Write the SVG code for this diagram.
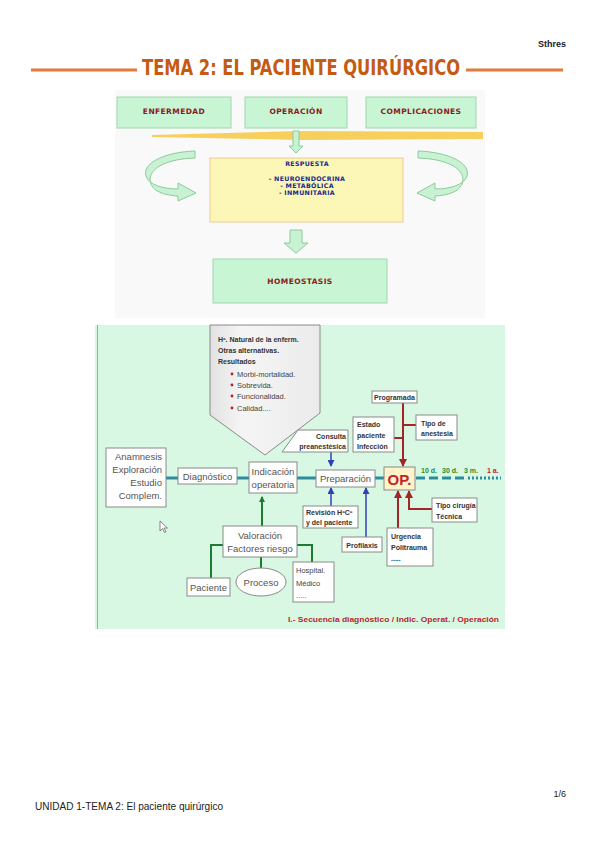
<svg xmlns="http://www.w3.org/2000/svg" width="599" height="848" viewBox="0 0 599 848">
<style>
.tb{fill:#C8F5D3;stroke:#9FD8AE;stroke-width:1}
.tt{font-family:"DejaVu Sans","Liberation Sans",sans-serif;font-weight:bold;font-size:7.5px;fill:#8B1A1A;text-anchor:middle;letter-spacing:0.4px}
.rt{font-family:"DejaVu Sans","Liberation Sans",sans-serif;font-weight:bold;font-size:6.3px;fill:#1A2A8C;text-anchor:middle;letter-spacing:0.3px}
.bx{fill:#FFFFFF;stroke:#8A8A8A;stroke-width:1}
.t9{font-family:"Liberation Sans",Arial,sans-serif;font-size:9.5px;fill:#555}
.tb7{font-family:"Liberation Sans",Arial,sans-serif;font-weight:bold;font-size:7px;fill:#333}
.pt{font-family:"Liberation Sans",Arial,sans-serif;font-size:7.5px;fill:#444}
.teal{stroke:#2C8C9C;stroke-width:3;fill:none}
.grn{stroke:#1E7B30;stroke-width:2;fill:none}
.blu{stroke:#3040B8;stroke-width:1.5;fill:none}
.red{stroke:#A32626;stroke-width:2;fill:none}
.ga{fill:#C8F2D2;stroke:#8CCB9C;stroke-width:1}
</style>
<defs>
<marker id="mg" markerWidth="6" markerHeight="6" refX="5" refY="3" orient="auto" markerUnits="userSpaceOnUse"><path d="M0,0 L6,3 L0,6 Z" fill="#1E7B30"/></marker>
<marker id="mb" markerWidth="7" markerHeight="7" refX="6" refY="3.5" orient="auto" markerUnits="userSpaceOnUse"><path d="M0,0 L7,3.5 L0,7 Z" fill="#3040B8"/></marker>
<marker id="mr" markerWidth="8" markerHeight="8" refX="7" refY="4" orient="auto" markerUnits="userSpaceOnUse"><path d="M0,0 L8,4 L0,8 Z" fill="#A32626"/></marker>
<linearGradient id="pg" x1="0" y1="0" x2="1" y2="0"><stop offset="0" stop-color="#E2E2E2"/><stop offset="0.3" stop-color="#F5F5F5"/><stop offset="1" stop-color="#EBEBEB"/></linearGradient>
</defs>
<rect width="599" height="848" fill="#FFFFFF"/>

<!-- header -->
<text x="566" y="47" text-anchor="end" font-family="'Liberation Sans',Arial,sans-serif" font-weight="bold" font-size="9" fill="#222">Sthres</text>
<line x1="31" y1="70" x2="137" y2="70" stroke="#E07B39" stroke-width="3"/>
<line x1="466" y1="70" x2="563" y2="70" stroke="#E07B39" stroke-width="3"/>
<text x="142" y="75" textLength="318" lengthAdjust="spacingAndGlyphs" font-family="'DejaVu Sans Condensed','DejaVu Sans',sans-serif" font-weight="bold" font-size="22" fill="#C55A11">TEMA 2: EL PACIENTE QUIRÚRGICO</text>

<!-- top diagram -->
<rect x="115" y="90" width="370" height="228" fill="#F8F9F8"/>
<path d="M152,135 L300,131 L483,132 L483,139 L300,140 L152,137 Z" fill="#F6C842" opacity="0.85"/>
<g id="enfermedad"><rect class="tb" x="117" y="97" width="114" height="31"/><text class="tt" x="174" y="114">ENFERMEDAD</text></g>
<g id="operacion"><rect class="tb" x="245" y="97" width="102" height="31"/><text class="tt" x="296" y="114">OPERACIÓN</text></g>
<g id="complicaciones"><rect class="tb" x="366" y="97" width="110" height="31"/><text class="tt" x="421" y="114">COMPLICACIONES</text></g>
<g id="respuesta"><rect x="210" y="158" width="193" height="64" fill="#FCF7B6" stroke="#F2C89A" stroke-width="1"/>
<text class="rt" x="307" y="166">RESPUESTA</text>
<text class="rt" x="307" y="181">- NEUROENDOCRINA</text>
<text class="rt" x="307" y="188">- METABÓLICA</text>
<text class="rt" x="307" y="195">- INMUNITARIA</text></g>
<g id="homeostasis"><rect class="tb" x="213" y="259" width="174" height="44"/><text class="tt" x="300" y="284">HOMEOSTASIS</text></g>
<g id="top-connectors">
<path class="ga" d="M293,131 L299,131 L299,146 L303,146 L296,153 L289,146 L293,146 Z"/>
<path class="ga" d="M290,230 L302,230 L302,243 L308,243 L296,253 L284,243 L290,243 Z"/>
<path class="ga" d="M195,151 C165,152 142,163 146,176 C149,185 163,189 178,189 L178,183 L196,193 L178,201 L178,196 C160,195 150,189 150,179 C151,167 168,159 195,158 Z"/>
<path class="ga" transform="translate(613,0) scale(-1,1)" d="M195,151 C165,152 142,163 146,176 C149,185 163,189 178,189 L178,183 L196,193 L178,201 L178,196 C160,195 150,189 150,179 C151,167 168,159 195,158 Z"/>
</g>

<!-- bottom diagram -->
<rect x="95" y="325" width="410" height="304" fill="#D9F8E3"/>
<line x1="97.5" y1="325" x2="97.5" y2="629" stroke="#9AA" stroke-width="1"/>
<g id="pentagon">
<path d="M210,325 L320,325 L320,413 L265,455 L210,415 Z" fill="url(#pg)" stroke="#8A8A8A" stroke-width="1"/>
<text class="tb7" x="218" y="342" font-size="7.5">Hº. Natural de la enferm.</text>
<text class="tb7" x="218" y="353" font-size="7.5">Otras alternativas.</text>
<text class="tb7" x="218" y="364" font-size="7.5">Resultados</text>
<g fill="#B22222"><circle cx="232" cy="374" r="1.4"/><circle cx="232" cy="385" r="1.4"/><circle cx="232" cy="396" r="1.4"/><circle cx="232" cy="408" r="1.4"/></g>
<text class="pt" x="237" y="377">Morbi-mortalidad.</text>
<text class="pt" x="237" y="388">Sobrevida.</text>
<text class="pt" x="237" y="399">Funcionalidad.</text>
<text class="pt" x="237" y="411">Calidad....</text>
</g>

<g id="connectors">
<line class="teal" x1="166" y1="478" x2="178" y2="478"/>
<line class="teal" x1="237" y1="478" x2="249" y2="478"/>
<line class="teal" x1="297" y1="478" x2="316" y2="478"/>
<line class="teal" x1="375" y1="478" x2="384" y2="478"/>
<line class="teal" x1="416" y1="478" x2="470" y2="478" stroke-dasharray="9,4"/>
<line class="teal" x1="472" y1="478" x2="501" y2="478" stroke-dasharray="2,2"/>
<path class="grn" d="M262,526 L262,497" marker-end="url(#mg)"/>
<path class="grn" d="M223,545 L211,545 L211,578"/>
<path class="grn" d="M297,545 L312,545 L312,562"/>
<path class="grn" d="M261,557 L261,568"/>
<path class="blu" d="M331,452 L331,466" marker-end="url(#mb)"/>
<path class="blu" d="M331,506 L331,488" marker-end="url(#mb)"/>
<path class="blu" d="M366,537 L366,488" marker-end="url(#mb)"/>
<path class="red" d="M403,403 L403,466" marker-end="url(#mr)"/>
<path class="red" d="M403,425 L416,425"/>
<path class="red" d="M394,438 L403,438"/>
<path class="red" d="M432,509 L409,509 L409,491" marker-end="url(#mr)"/>
<path class="red" d="M398,528 L398,491" marker-end="url(#mr)"/>
</g>

<g id="anamnesis"><rect class="bx" x="106" y="448" width="60" height="59"/>
<g class="t9" text-anchor="end"><text x="162" y="460">Anamnesis</text><text x="162" y="473">Exploración</text><text x="162" y="486">Estudio</text><text x="162" y="499">Complem.</text></g></g>
<g id="diagnostico"><rect class="bx" x="178" y="468" width="59" height="16"/><text class="t9" x="207.5" y="479.5" text-anchor="middle">Diagnóstico</text></g>
<g id="indicacion"><rect class="bx" x="249" y="462" width="48" height="31"/><text class="t9" x="273" y="475" text-anchor="middle">Indicación</text><text class="t9" x="273" y="488" text-anchor="middle">operatoria</text></g>
<g id="preparacion"><rect class="bx" x="316" y="470" width="59" height="17"/><text class="t9" x="345.5" y="482" text-anchor="middle">Preparación</text></g>
<g id="op"><rect x="384" y="467" width="31" height="23" fill="#FFF3C9" stroke="#8A8A8A" stroke-width="1"/><text x="399.5" y="485" text-anchor="middle" font-family="'Liberation Sans',Arial,sans-serif" font-weight="bold" font-size="15" fill="#C0262A">OP.</text></g>
<g id="timeline" font-family="'Liberation Sans',Arial,sans-serif" font-weight="bold" font-size="7">
<text x="421" y="473" fill="#2E8B2E">10 d.</text><text x="442" y="473" fill="#2E8B2E">30 d.</text><text x="464" y="473" fill="#2E8B2E">3 m.</text><text x="487" y="473" fill="#C0262A">1 a.</text></g>
<g id="consulta"><path d="M298,430 L348,430 L348,452 L282,452 Z" class="bx"/><text class="tb7" x="346" y="439" text-anchor="end">Consulta</text><text class="tb7" x="346" y="449" text-anchor="end">preanestésica</text></g>
<g id="estado"><rect class="bx" x="353" y="417" width="41" height="35"/><text class="tb7" x="357" y="427">Estado</text><text class="tb7" x="357" y="438">paciente</text><text class="tb7" x="357" y="449">Infección</text></g>
<g id="programada"><rect class="bx" x="372" y="391" width="45" height="12"/><text class="tb7" x="394.5" y="400" text-anchor="middle">Programada</text></g>
<g id="anestesia"><rect class="bx" x="416" y="415" width="41" height="25"/><text class="tb7" x="421" y="426">Tipo de</text><text class="tb7" x="421" y="436">anestesia</text></g>
<g id="revision"><rect class="bx" x="303" y="506" width="55" height="22"/><text class="tb7" x="306" y="515">Revisión HºCº</text><text class="tb7" x="306" y="525">y del paciente</text></g>
<g id="profilaxis"><rect class="bx" x="342" y="537" width="40" height="15"/><text class="tb7" x="362" y="547.5" text-anchor="middle">Profilaxis</text></g>
<g id="tipocirugia"><rect class="bx" x="432" y="498" width="45" height="24"/><text class="tb7" x="436" y="508">Tipo cirugía</text><text class="tb7" x="436" y="519">Técnica</text></g>
<g id="urgencia"><rect class="bx" x="387" y="528" width="46" height="38"/><text class="tb7" x="391" y="539">Urgencia</text><text class="tb7" x="391" y="550">Politrauma</text><text class="tb7" x="391" y="561">.....</text></g>
<g id="valoracion"><rect class="bx" x="223" y="526" width="74" height="31"/><text class="t9" x="260" y="539" text-anchor="middle">Valoración</text><text class="t9" x="260" y="552" text-anchor="middle">Factores riesgo</text></g>
<g id="paciente"><rect class="bx" x="187" y="578" width="43" height="18"/><text class="t9" x="208.5" y="591" text-anchor="middle">Paciente</text></g>
<g id="proceso"><ellipse class="bx" cx="261" cy="582" rx="25" ry="14"/><text class="t9" x="261" y="585.5" text-anchor="middle">Proceso</text></g>
<g id="hospital"><rect class="bx" x="293" y="562" width="41" height="40"/><text class="pt" x="296" y="573" font-size="8.5">Hospital.</text><text class="pt" x="296" y="586" font-size="8.5">Médico</text><text class="pt" x="296" y="598">.....</text></g>
<path d="M160,521 L160,531 L162.5,528.5 L164.5,532.5 L166,531.8 L164,528 L167.5,528 Z" fill="#FFFFFF" stroke="#555" stroke-width="0.7"/>
<text x="499" y="622" text-anchor="end" textLength="211" lengthAdjust="spacingAndGlyphs" font-family="'Liberation Sans',Arial,sans-serif" font-weight="bold" font-size="8" fill="#B8262A">I.- Secuencia diagnóstico / Indic. Operat. / Operación</text>

<!-- footer -->
<text x="566" y="797" text-anchor="end" font-family="'Liberation Sans',Arial,sans-serif" font-size="9" fill="#222">1/6</text>
<text x="35" y="810" textLength="188" lengthAdjust="spacingAndGlyphs" font-family="'Liberation Sans',Arial,sans-serif" font-size="10" fill="#222">UNIDAD 1-TEMA 2: El paciente quirúrgico</text>
</svg>
